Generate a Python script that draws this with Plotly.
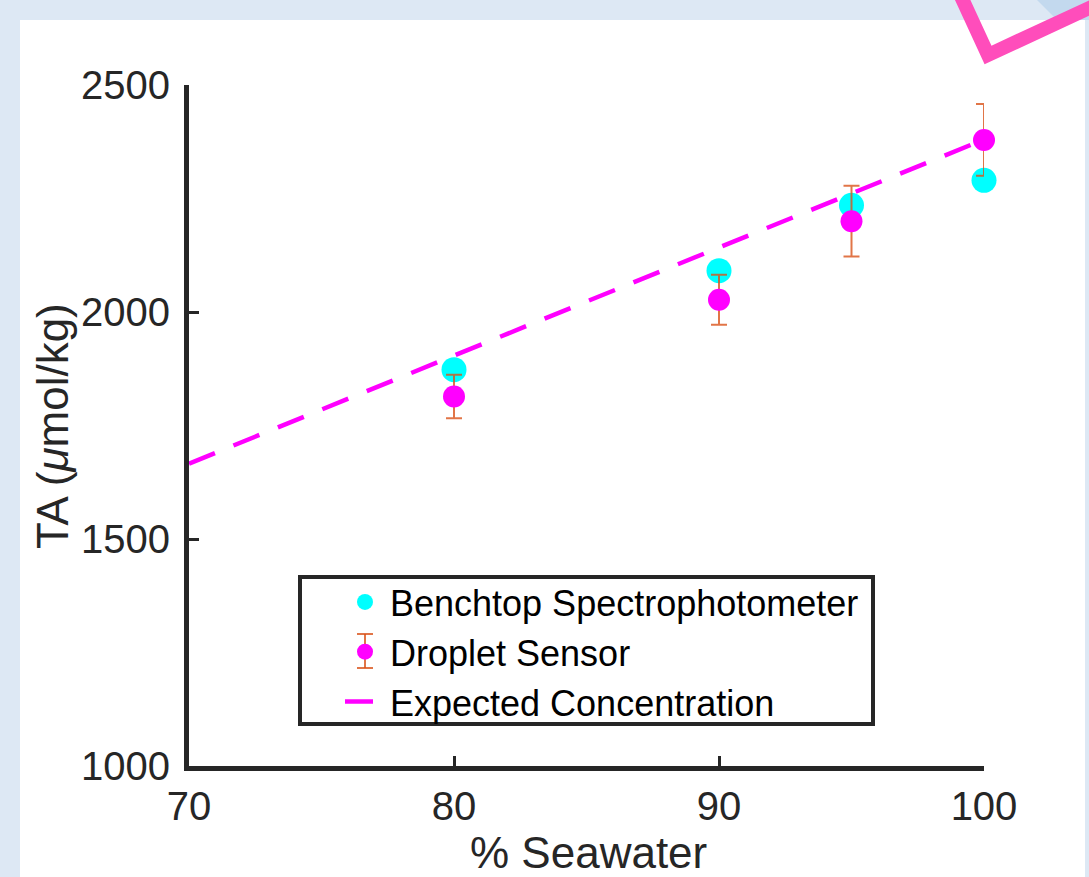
import plotly.graph_objects as go

# ---- data ----
seawater_pct = [80, 90, 95, 100]
benchtop_ta = [1873, 2091, 2235, 2290]
droplet_ta = [1814, 2027, 2200, 2379]
droplet_err = [48, 55, 78, 79]
expected_pct = [70, 80, 90, 95, 100]
expected_ta = [1666, 1904, 2142, 2261, 2380]
x_ticks = [70, 80, 90, 100]
y_ticks = [1000, 1500, 2000, 2500]

W, H = 1089, 877
def px(x):
    return x / W
def py(y):
    return 1 - y / H

FONT = "Liberation Sans, Arial, sans-serif"
TXT = "#262626"
ERR = "rgba(217,83,25,0.8)"

fig = go.Figure()

fig.add_trace(go.Scatter(
    x=seawater_pct, y=benchtop_ta, mode="markers",
    name="Benchtop Spectrophotometer", legendrank=1, cliponaxis=False,
    marker=dict(color="#00ffff", size=25, line=dict(width=0)),
))
fig.add_trace(go.Scatter(
    x=expected_pct, y=expected_ta, mode="lines",
    name="Expected Concentration", legendrank=3, cliponaxis=False,
    line=dict(color="#ff00ff", width=4.5, dash="28px,20px"),
))
fig.add_trace(go.Scatter(
    x=seawater_pct, y=droplet_ta, mode="markers",
    name="Droplet Sensor", legendrank=2, cliponaxis=False,
    marker=dict(color="#ff00ff", size=22, line=dict(width=0)),
    error_y=dict(type="data", array=droplet_err, visible=True,
                 color=ERR, thickness=2, width=8),
))

# legend error-bar glyph (decoration) position
gx, gy, gh, gc = 365, 651, 17, 8

shapes = [
    # white panel
    dict(type="rect", xref="paper", yref="paper", layer="below",
         x0=px(20), x1=px(1085), y0=py(880), y1=py(20),
         fillcolor="white", line=dict(width=0)),
    # darker blue diagonal in top-right band
    dict(type="path", xref="paper", yref="paper", layer="below",
         path=f"M {px(1037)},{py(0)} L {px(1089)},{py(0)} L {px(1089)},{py(20)} L {px(1057)},{py(20)} Z",
         fillcolor="#c3d9ee", line=dict(width=0)),
    # pink V arrow
    dict(type="path", xref="paper", yref="paper", layer="above",
         path=f"M {px(959)},{py(-8)} L {px(988)},{py(55)} L {px(1100)},{py(3)}",
         line=dict(color="#ff4dbb", width=14)),
    # legend box
    dict(type="rect", xref="paper", yref="paper", layer="above",
         x0=px(300), x1=px(873), y0=py(724), y1=py(577),
         fillcolor="white", line=dict(color=TXT, width=4)),
    # legend error bar glyph
    dict(type="line", xref="paper", yref="paper", layer="above",
         x0=px(gx), x1=px(gx), y0=py(gy - gh), y1=py(gy + gh),
         line=dict(color=ERR, width=2)),
    dict(type="line", xref="paper", yref="paper", layer="above",
         x0=px(gx - gc), x1=px(gx + gc), y0=py(gy - gh), y1=py(gy - gh),
         line=dict(color=ERR, width=2)),
    dict(type="line", xref="paper", yref="paper", layer="above",
         x0=px(gx - gc), x1=px(gx + gc), y0=py(gy + gh), y1=py(gy + gh),
         line=dict(color=ERR, width=2)),
]

annotations = [
    dict(text="% Seawater", xref="paper", yref="paper",
         x=px(588), y=py(852), xanchor="center", yanchor="middle",
         showarrow=False, font=dict(family=FONT, size=44, color=TXT)),
    dict(text="TA (<i>μ</i>mol/kg)", xref="paper", yref="paper",
         x=px(52), y=py(426), xanchor="center", yanchor="middle",
         showarrow=False, textangle=-90,
         font=dict(family=FONT, size=44, color=TXT)),
]

fig.update_layout(
    width=W, height=H,
    margin=dict(l=0, r=0, t=0, b=0, pad=0, autoexpand=False),
    paper_bgcolor="#dde8f4",
    plot_bgcolor="white",
    font=dict(family=FONT, color=TXT, size=40),
    showlegend=True,
    legend=dict(
        x=px(340), y=py(572), xanchor="left", yanchor="top",
        bgcolor="rgba(0,0,0,0)", borderwidth=0,
        font=dict(family=FONT, size=36, color="black"),
        tracegroupgap=0, itemwidth=40,
    ),
    shapes=shapes,
    annotations=annotations,
    xaxis=dict(
        domain=[px(189), px(984)], range=[70, 100], automargin=False,
        tickvals=x_ticks, ticktext=[str(v) for v in x_ticks],
        showgrid=False, zeroline=False,
        showline=True, linecolor=TXT, linewidth=5,
        ticks="inside", ticklen=10, tickwidth=3, tickcolor=TXT,
        tickfont=dict(family=FONT, size=40, color=TXT),
        ticklabelstandoff=1,
    ),
    yaxis=dict(
        domain=[py(766), py(85)], range=[1000, 2500], automargin=False,
        tickvals=y_ticks, ticktext=[str(v) for v in y_ticks],
        showgrid=False, zeroline=False,
        showline=True, linecolor=TXT, linewidth=5,
        ticks="inside", ticklen=10, tickwidth=3, tickcolor=TXT,
        tickfont=dict(family=FONT, size=40, color=TXT),
        ticklabelstandoff=6,
    ),
)

fig.write_html("out.html", config={"displayModeBar": False},
               post_script="document.body.style.margin='0';")
